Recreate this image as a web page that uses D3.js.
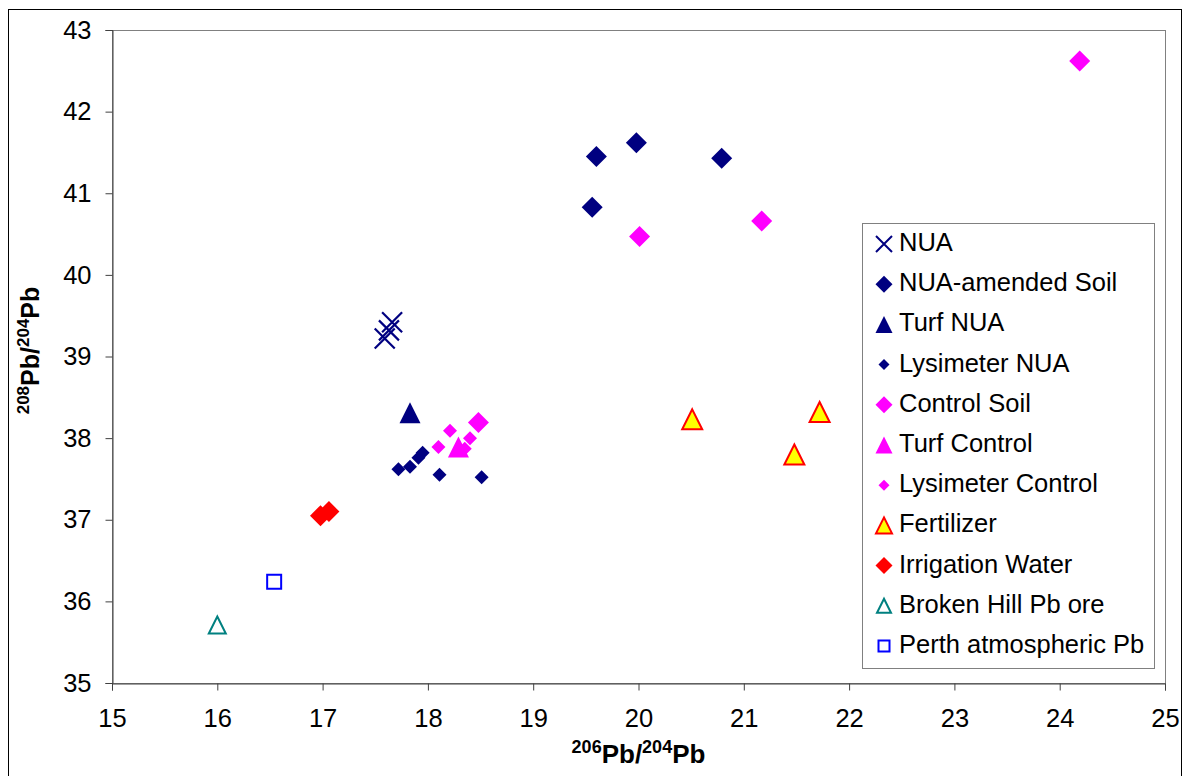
<!DOCTYPE html>
<html>
<head>
<meta charset="utf-8">
<script src="https://cdn.jsdelivr.net/npm/d3@7"></script>
<style>
  html, body { margin: 0; padding: 0; background: #fff; }
  svg { display: block; }
  text { font-family: Arial, "Liberation Sans", sans-serif; fill: #000; }
</style>
</head>
<body>
<svg id="chart" width="1187" height="776"></svg>
<script>
// Pb isotope ratios: [206Pb/204Pb, 208Pb/204Pb]
const nua            = [[17.66, 39.42], [17.63, 39.32], [17.59, 39.22]];
const nuaSoil        = [[19.60, 41.45], [19.98, 41.62], [20.79, 41.43], [19.56, 40.83]];
const turfNua        = [[17.83, 38.31]];
const lysimeterNua   = [[17.72, 37.62], [17.83, 37.65], [17.91, 37.76], [17.95, 37.82], [18.11, 37.55], [18.51, 37.52]];
const controlSoil    = [[20.01, 40.47], [21.17, 40.66], [24.19, 42.62], [18.48, 38.19]];
const turfControl    = [[18.29, 37.89]];
const lysimeterCtrl  = [[18.10, 37.89], [18.21, 38.09], [18.40, 38.00], [18.35, 37.87]];
const fertilizer     = [[20.51, 38.23], [21.72, 38.32], [21.48, 37.80]];
const irrigation     = [[16.98, 37.05], [17.06, 37.10]];
const brokenHill     = [[16.00, 35.71]];
const perthAtm       = [[16.54, 36.24]];

const xTicks = [15, 16, 17, 18, 19, 20, 21, 22, 23, 24, 25];
const yTicks = [35, 36, 37, 38, 39, 40, 41, 42, 43];

const series = [
  { name: "NUA",                   data: nua,           shape: "cross",    size: 20, fill: "none",    stroke: "#000080" },
  { name: "NUA-amended Soil",      data: nuaSoil,       shape: "diamond",  size: 21, fill: "#000080", stroke: "none" },
  { name: "Turf NUA",              data: turfNua,       shape: "triangle", size: 21, fill: "#000080", stroke: "none" },
  { name: "Lysimeter NUA",         data: lysimeterNua,  shape: "diamond",  size: 14, fill: "#000080", stroke: "none" },
  { name: "Control Soil",          data: controlSoil,   shape: "diamond",  size: 21, fill: "#FF00FF", stroke: "none" },
  { name: "Turf Control",          data: turfControl,   shape: "triangle", size: 21, fill: "#FF00FF", stroke: "none" },
  { name: "Lysimeter Control",     data: lysimeterCtrl, shape: "diamond",  size: 14, fill: "#FF00FF", stroke: "none" },
  { name: "Fertilizer",            data: fertilizer,    shape: "triangle", size: 20, fill: "#FFFF00", stroke: "#FF0000" },
  { name: "Irrigation Water",      data: irrigation,    shape: "diamond",  size: 21, fill: "#FF0000", stroke: "none" },
  { name: "Broken Hill Pb ore",    data: brokenHill,    shape: "triangle", size: 17, fill: "none",    stroke: "#008080" },
  { name: "Perth atmospheric Pb",  data: perthAtm,      shape: "square",   size: 14, fill: "none",    stroke: "#0000FF" }
];

const svg = d3.select("#chart");
const plot = { left: 112, top: 30, right: 1165, bottom: 683 };

const x = d3.scaleLinear().domain([15, 25]).range([plot.left, plot.right]);
const y = d3.scaleLinear().domain([35, 43]).range([plot.bottom, plot.top]);

// outer chart frame
svg.append("rect")
  .attr("x", 8.5).attr("y", 9.5).attr("width", 1173).attr("height", 790)
  .attr("fill", "#fff").attr("stroke", "#000").attr("stroke-width", 1);

// plot area border
svg.append("rect")
  .attr("x", plot.left + 0.5).attr("y", plot.top + 0.5)
  .attr("width", plot.right - plot.left).attr("height", plot.bottom - plot.top)
  .attr("fill", "#fff").attr("stroke", "#808080").attr("stroke-width", 1);

// marker path builder, centred on 0,0
function markerPath(shape, s) {
  const h = s / 2;
  switch (shape) {
    case "diamond":  return `M0,${-h}L${h},0L0,${h}L${-h},0Z`;
    case "triangle": return `M0,${-h}L${h},${h}L${-h},${h}Z`;
    case "square":   return `M${-h},${-h}H${h}V${h}H${-h}Z`;
    case "cross":    return `M${-h},${-h}L${h},${h}M${h},${-h}L${-h},${h}`;
  }
}

// axes
const yAxis = d3.axisLeft(y).tickValues(yTicks).tickFormat(d3.format("d"))
  .tickSize(7).tickPadding(14);
const xAxis = d3.axisBottom(x).tickValues(xTicks).tickFormat(d3.format("d"))
  .tickSize(7).tickPadding(18);

const gy = svg.append("g").attr("transform", `translate(${plot.left + 0.5},0)`).call(yAxis);
const gx = svg.append("g").attr("transform", `translate(0,${plot.bottom + 0.5})`).call(xAxis);
[gx, gy].forEach(g => {
  g.select(".domain").attr("stroke", "#404040");
  g.selectAll(".tick line").attr("stroke", "#404040");
  g.selectAll(".tick text").attr("font-size", 25.5)
    .attr("font-family", "Arial, 'Liberation Sans', sans-serif").attr("fill", "#000");
});

// data points
series.forEach(s => {
  svg.append("g").selectAll("path").data(s.data).join("path")
    .attr("transform", d => `translate(${x(d[0])},${y(d[1])})`)
    .attr("d", markerPath(s.shape, s.size))
    .attr("fill", s.fill)
    .attr("stroke", s.stroke)
    .attr("stroke-width", s.shape === "cross" ? 2.2 : 2)
    .attr("stroke-linejoin", "miter");
});

// legend
const legend = svg.append("g");
legend.append("rect")
  .attr("x", 862.5).attr("y", 223.5).attr("width", 292).attr("height", 445)
  .attr("fill", "#fff").attr("stroke", "#808080").attr("stroke-width", 1);

const legendScale = 0.82;
series.forEach((s, i) => {
  const cy = 242 + i * 40.2;
  legend.append("path")
    .attr("transform", `translate(884,${cy + 2})`)
    .attr("d", markerPath(s.shape, Math.round(s.size * legendScale)))
    .attr("fill", s.fill)
    .attr("stroke", s.stroke)
    .attr("stroke-width", 2);
  legend.append("text")
    .attr("x", 899).attr("y", cy + 9)
    .attr("font-size", 25.5)
    .text(s.name);
});

// axis titles
const xTitle = svg.append("text")
  .attr("x", (plot.left + plot.right) / 2).attr("y", 763)
  .attr("text-anchor", "middle").attr("font-weight", "bold").attr("font-size", 26);
xTitle.append("tspan").attr("font-size", 18).attr("dy", -10).text("206");
xTitle.append("tspan").attr("dy", 10).text("Pb/");
xTitle.append("tspan").attr("font-size", 18).attr("dy", -10).text("204");
xTitle.append("tspan").attr("dy", 10).text("Pb");

const yTitle = svg.append("text")
  .attr("transform", `translate(39,${(plot.top + plot.bottom) / 2 - 6}) rotate(-90)`)
  .attr("text-anchor", "middle").attr("font-weight", "bold").attr("font-size", 25);
yTitle.append("tspan").attr("font-size", 17).attr("dy", -10).text("208");
yTitle.append("tspan").attr("dy", 10).text("Pb/");
yTitle.append("tspan").attr("font-size", 17).attr("dy", -10).text("204");
yTitle.append("tspan").attr("dy", 10).text("Pb");
</script>
</body>
</html>
